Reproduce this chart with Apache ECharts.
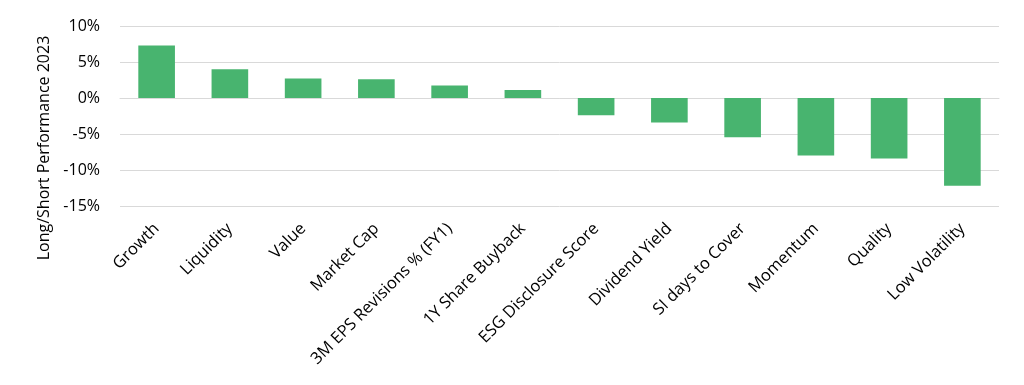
<!DOCTYPE html>
<html><head><meta charset="utf-8">
<script src="https://cdn.jsdelivr.net/npm/echarts@6/dist/echarts.min.js"></script>
<style>html,body{margin:0;padding:0;background:#fff}#c{width:1024px;height:385px}</style>
</head><body><div id="c"></div>
<script>
const categories = ["Growth","Liquidity","Value","Market Cap","3M EPS Revisions % (FY1)","1Y Share Buyback","ESG Disclosure Score","Dividend Yield","SI days to Cover","Momentum","Quality","Low Volatility"];
const values = [7.3, 4.0, 2.7, 2.6, 1.75, 1.1, -2.4, -3.4, -5.45, -8.0, -8.4, -12.2];
const yTitle = "Long/Short Performance 2023";
const FONT = "Open Sans";
const chart = echarts.init(document.getElementById('c'));
chart.setOption({
  animation: false,
  textStyle: {fontFamily: FONT},
  grid: {left: 120, right: 25, top: 26, bottom: 179},
  xAxis: {
    type: 'category', data: categories,
    axisLine: {onZero: true, lineStyle: {color: '#d9d9d9', width: 1}},
    axisTick: {show: false},
    axisLabel: {interval: 0, rotate: 45, color: '#000', fontSize: 16.5, fontFamily: FONT, margin: 20}
  },
  yAxis: {
    type: 'value', min: -15, max: 10, interval: 5,
    axisLine: {show: false}, axisTick: {show: false},
    splitLine: {lineStyle: {color: '#d9d9d9', width: 1}},
    axisLabel: {formatter: v => v + '%', color: '#000', fontSize: 16, fontFamily: FONT, margin: 20}
  },
  graphic: [{
    type: 'text', x: 44, y: 148, rotation: Math.PI/2,
    style: {text: yTitle, fill: '#000', font: '16px "' + FONT + '"', align: 'center', verticalAlign: 'middle'}
  }],
  series: [{
    type: 'bar', data: values, barWidth: '50%',
    itemStyle: {color: '#48B46F'}
  }]
});
</script></body></html>
